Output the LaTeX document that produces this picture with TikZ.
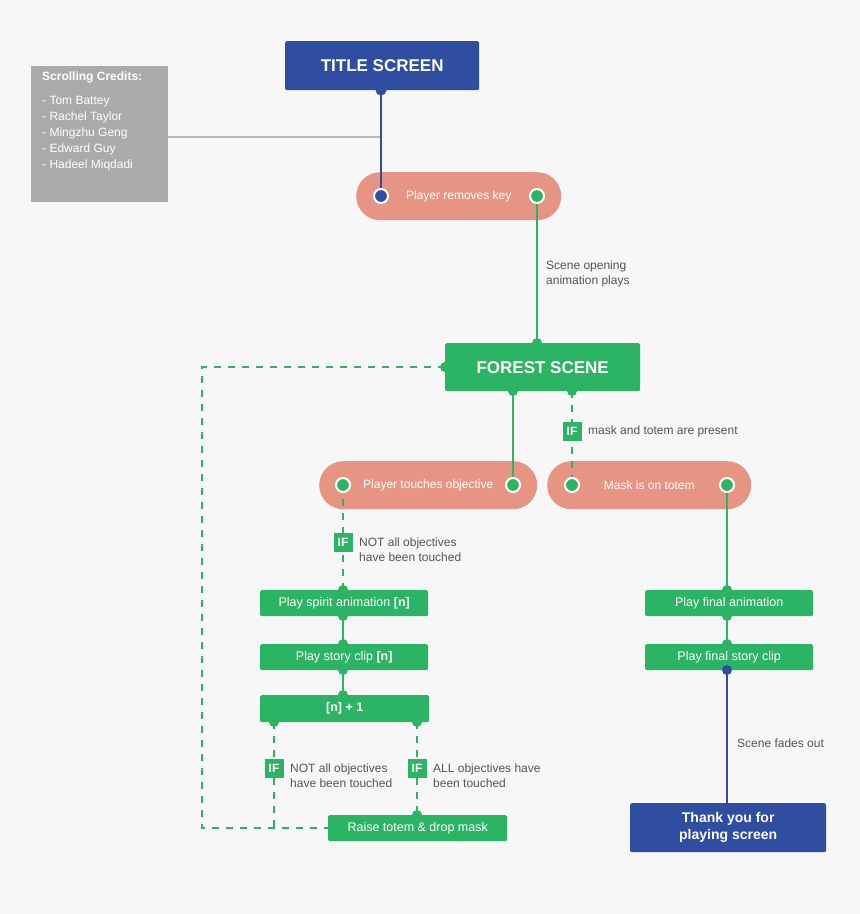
\documentclass[tikz,border=0pt]{standalone}
\usepackage{fontspec}
\setmainfont{Liberation Sans}
\begin{document}
\definecolor{bg}{HTML}{F7F7F7}
\definecolor{bl}{HTML}{2F4EA2}
\definecolor{gr}{HTML}{2BB463}
\definecolor{sal}{HTML}{E69585}
\definecolor{gbox}{HTML}{AAAAAA}
\definecolor{gline}{HTML}{B8B8B8}
\definecolor{txt}{HTML}{555555}
\begin{tikzpicture}[x=1pt,y=-1pt,
 box/.style={draw=none,fill=#1,text=white,inner sep=0,anchor=north west,rounded corners=1.5pt},
 pill/.style={fill=sal,text=white,rounded corners=24pt,inner sep=0,anchor=north west,font=\fontsize{12}{14}\selectfont},
 gl/.style={gr,line width=2.6pt},
 gd/.style={gr,line width=2.6pt,dash pattern=on 7pt off 7pt},
 dotg/.style={circle,fill=gr,inner sep=0,minimum size=10pt},
 ring/.style={circle,fill=#1,draw=white,line width=2pt,inner sep=0,minimum size=14pt},
 ifb/.style={fill=gr,text=white,font=\bfseries\fontsize{12}{14}\selectfont,inner sep=0,minimum width=19pt,minimum height=19pt},
 lbl/.style={text=txt,font=\fontsize{12}{15}\selectfont,align=left,anchor=west,inner sep=0},
 sb/.style={font=\fontsize{12.5}{14}\selectfont}]
\fill[bg] (0,0) rectangle (860,914);
\useasboundingbox (0,0) rectangle (860,914);
% nodes
\node[box=bl,minimum width=194pt,minimum height=49pt,font=\bfseries\fontsize{17}{20}\selectfont] (title) at (285,41) {TITLE SCREEN};
\node[box=gbox,minimum width=137pt,minimum height=136pt,rounded corners=0,font=\fontsize{12}{16}\selectfont,align=left,anchor=north west,text width=127pt,inner sep=0] (cred) at (31,66) {};
\node[text=white,anchor=north west,font=\fontsize{12}{16}\selectfont,align=left,inner sep=0] (credt) at (42,72) {\textbf{Scrolling Credits:}\\[8pt] - Tom Battey\\ - Rachel Taylor\\ - Mingzhu Geng\\ - Edward Guy\\ - Hadeel Miqdadi};
\node[pill,minimum width=205pt,minimum height=48pt] (key) at (356,172) {Player removes key};
\node[box=gr,minimum width=195pt,minimum height=48pt,font=\bfseries\fontsize{17}{20}\selectfont] (forest) at (445,343) {FOREST SCENE};
\node[pill,minimum width=218pt,minimum height=48pt] (touch) at (319,461) {Player touches objective};
\node[pill,minimum width=204pt,minimum height=48pt] (mask) at (547,461) {Mask is on totem};
\node[box=gr,minimum width=168pt,minimum height=26pt,sb] (spirit) at (260,590) {Play spirit animation \textbf{[n]}};
\node[box=gr,minimum width=168pt,minimum height=26pt,sb] (clip) at (260,644) {Play story clip \textbf{[n]}};
\node[box=gr,minimum width=169pt,minimum height=27pt,sb] (inc) at (260,695) {\textbf{[n] + 1}};
\node[box=gr,minimum width=179pt,minimum height=26pt,sb] (raise) at (328,815) {Raise totem \& drop mask};
\node[box=gr,minimum width=168pt,minimum height=26pt,sb] (fanim) at (645,590) {Play final animation};
\node[box=gr,minimum width=168pt,minimum height=26pt,sb] (fclip) at (645,644) {Play final story clip};
\node[box=bl,minimum width=196pt,minimum height=49pt,font=\bfseries\fontsize{14}{17}\selectfont,align=center] (thanks) at (630,803) {Thank you for\\playing screen};
% coordinates
\coordinate (credr) at (168,137);
\coordinate (tb) at (381,90);
\coordinate (kl) at (381,196); \coordinate (kr) at (537,196);
\coordinate (ft) at (537,343); \coordinate (fl) at (445,367);
\coordinate (fb1) at (513,391); \coordinate (fb2) at (572,391);
\coordinate (tl) at (343,485); \coordinate (tr) at (513,485);
\coordinate (ml) at (572,485); \coordinate (mr) at (727,485);
\coordinate (st) at (343,590); \coordinate (sbt) at (343,616);
\coordinate (ct) at (343,644); \coordinate (cb) at (343,670);
\coordinate (it) at (343,695); \coordinate (ib1) at (274,722); \coordinate (ib2) at (417,722);
\coordinate (rt) at (417,815); \coordinate (rl) at (328,828);
\coordinate (c1) at (202,367); \coordinate (c2) at (202,828); \coordinate (c3) at (274,828);
\coordinate (fat) at (727,590); \coordinate (fab) at (727,616);
\coordinate (fct) at (727,644); \coordinate (fcb) at (727,670);
\coordinate (tht) at (727,803);
% connectors
\draw[gline,line width=2.6pt] (credr) -- (credr -| tb);
\draw[bl,line width=2.6pt] (tb) -- (kl);
\fill[bl] (tb) circle (5.5pt);
\node[ring=bl] (kld) at (kl) {};
\draw[gl] (kr) -- (ft);
\node[ring=gr] (krd) at (kr) {};
\node[dotg] at (ft) {};
\node[lbl,anchor=north west] (lab1) at (546,261) {Scene opening\\animation plays};
\draw[gd] (fl) -- (c1) -- (c2) -- (rl);
\node[dotg] at (fl) {};
\draw[gl] (fb1) -- (tr);
\draw[gd] (fb2) -- (ml);
\node[dotg] at (fb1) {}; \node[dotg] at (fb2) {};
\node[ring=gr] at (tr) {}; \node[ring=gr] at (ml) {};
\node[ifb] (if1) at (572,431) {IF};
\node[lbl] at (588,431) {mask and totem are present};
\draw[gd] (tl) -- (st);
\node[ring=gr] at (tl) {};
\node[ifb] (if2) at (343,542) {IF};
\node[lbl] at (359,550) {NOT all objectives\\have been touched};
\draw[gl] (sbt) -- (ct); \draw[gl] (cb) -- (it);
\foreach \p in {st,sbt,ct,cb,it,ib1,ib2,rt,fat,fab,fct} \node[dotg] at (\p) {};
\draw[gd] (ib1) -- (c3); \draw[gd] (ib2) -- (rt);
\node[ifb] (if3) at (274,768) {IF};
\node[lbl] at (290,776) {NOT all objectives\\have been touched};
\node[ifb] (if4) at (417,768) {IF};
\node[lbl] at (433,776) {ALL objectives have\\been touched};
\draw[gl] (mr) -- (fat); \draw[gl] (fab) -- (fct);
\node[ring=gr] at (mr) {};
\draw[bl,line width=2.6pt] (fcb) -- (tht);
\fill[bl] (fcb) circle (5pt);
\node[lbl] at (737,743) {Scene fades out};
\end{tikzpicture}
\end{document}
